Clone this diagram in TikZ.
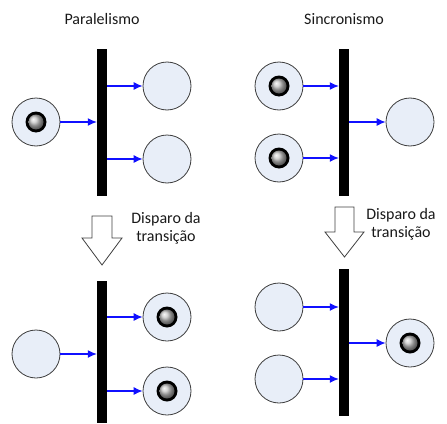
\documentclass[tikz,border=0pt]{standalone}
\usepackage{fontspec}
\setmainfont{Carlito}
\usetikzlibrary{arrows.meta}
\definecolor{placefill}{HTML}{E8EEF8}
\definecolor{placeline}{HTML}{3C3C3C}
\definecolor{arcblue}{HTML}{1010FF}
\tikzset{
  place/.style={circle, draw=placeline, fill=placefill, line width=0.8pt,
    minimum size=48pt, inner sep=0pt},
  tbar/.style={rectangle, fill=black, draw=none, inner sep=0pt, minimum width=10pt},
  arc/.style={draw=arcblue, line width=1.1pt, -{Latex[length=9pt,width=8pt]}},
  hollow/.style={draw=black!75, fill=white, line width=0.8pt, line join=miter},
  caption/.style={font=\fontsize{16}{18}\selectfont, text=black!90, align=center},
  token/.pic={
    \fill[black] (0,0) circle (10.5pt);
    \shade[ball color=gray!45] (0,0) circle (7.5pt);
  }
}
\begin{document}
\begin{tikzpicture}[x=1pt, y=-1pt]
  \useasboundingbox (0,0) rectangle (447,423);

  % titles
  \node[caption] (tpar) at (102,19) {Paralelismo};
  \node[caption] (tsin) at (344,19) {Sincronismo};

  % ---- parallelism, before firing
  \node[tbar, minimum height=147pt] (b1) at (102,122.5) {};
  \node[place] (a1) at (36,122) {};
  \node[place] (a2) at (167,86) {};
  \node[place] (a3) at (167,159) {};
  \pic at (a1) {token};
  \draw[arc] (a1) -- (a1 -| b1.west);
  \draw[arc] (b1.east |- a2) -- (a2);
  \draw[arc] (b1.east |- a3) -- (a3);

  % ---- synchronism, before firing
  \node[tbar, minimum height=147pt] (b2) at (344,122.5) {};
  \node[place] (c1) at (279,86) {};
  \node[place] (c2) at (279,158) {};
  \node[place] (c3) at (410,122) {};
  \pic at (c1) {token};
  \pic at (c2) {token};
  \draw[arc] (c1) -- (c1 -| b2.west);
  \draw[arc] (c2) -- (c2 -| b2.west);
  \draw[arc] (b2.east |- c3) -- (c3);

  % ---- firing arrows
  \draw[hollow] (92,216) -- (112,216) -- (112,238) -- (122,238) -- (102,265)
    -- (82,238) -- (92,238) -- cycle;
  \node[caption] (f1) at (166,228) {Disparo da\\transição};
  \draw[hollow] (335,207) -- (354,207) -- (354,232) -- (364,232) -- (344.5,257)
    -- (325,232) -- (335,232) -- cycle;
  \node[caption] (f2) at (401,224) {Disparo da\\transição};

  % ---- parallelism, after firing
  \node[tbar, minimum height=142pt] (b3) at (102,352) {};
  \node[place] (d1) at (36,354) {};
  \node[place] (d2) at (167,317) {};
  \node[place] (d3) at (167,391) {};
  \pic at (d2) {token};
  \pic at (d3) {token};
  \draw[arc] (d1) -- (d1 -| b3.west);
  \draw[arc] (b3.east |- d2) -- (d2);
  \draw[arc] (b3.east |- d3) -- (d3);

  % ---- synchronism, after firing
  \node[tbar, minimum height=147pt] (b4) at (344,342.5) {};
  \node[place] (e1) at (279,307) {};
  \node[place] (e2) at (279,379) {};
  \node[place] (e3) at (410,343) {};
  \pic at (e3) {token};
  \draw[arc] (e1) -- (e1 -| b4.west);
  \draw[arc] (e2) -- (e2 -| b4.west);
  \draw[arc] (b4.east |- e3) -- (e3);
\end{tikzpicture}
\end{document}
